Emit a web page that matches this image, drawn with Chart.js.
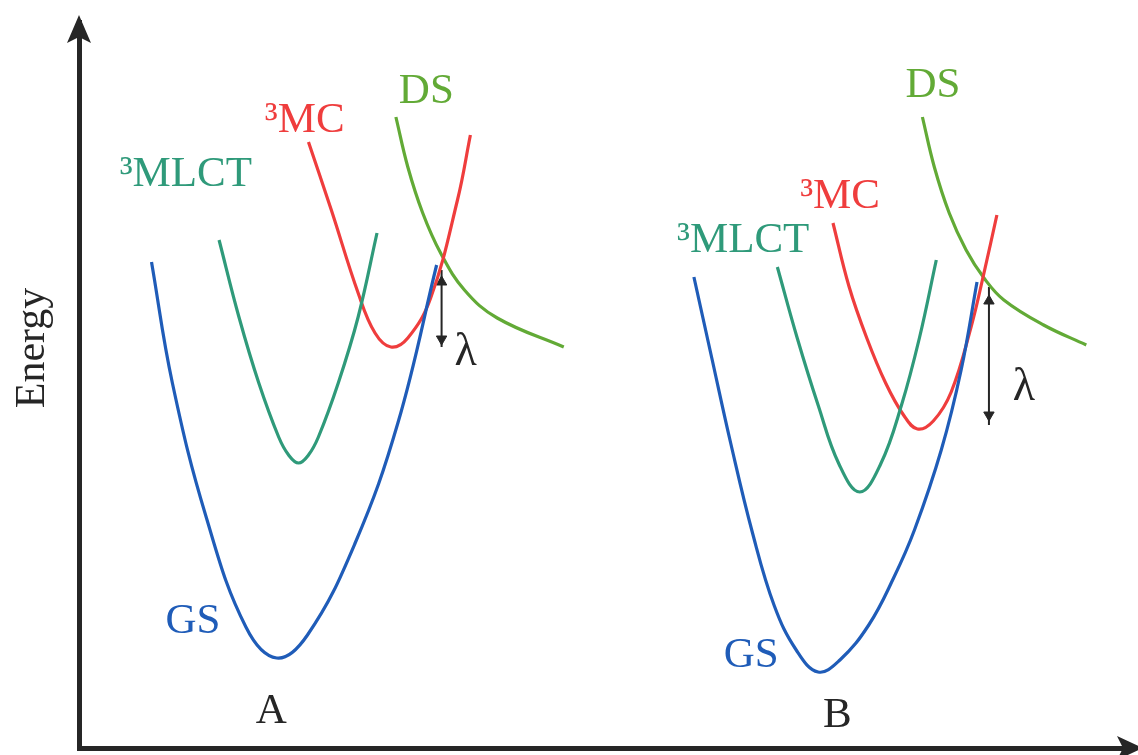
<!DOCTYPE html>
<html>
<head>
<meta charset="utf-8">
<script src="https://cdn.jsdelivr.net/npm/chart.js@4.4.0/dist/chart.umd.min.js"></script>
<style>
  html, body { margin: 0; padding: 0; background: #fff; }
  #wrap { width: 1138px; height: 755px; }
</style>
</head>
<body>
<div id="wrap"><canvas id="pesChart"></canvas></div>
<script>
// reaction coordinate (x) and energy (y)
// panel A
const gsA_x = [73, 94, 128, 168, 199, 230, 278, 321, 360];
const gsA_y = [486, 365, 231, 121, 90, 113, 205, 325, 483];
const mlctA_x = [141, 161, 181, 201, 211, 221, 231, 241, 261, 281, 300];
const mlctA_y = [508, 431, 365, 311, 293, 285, 293, 311, 365, 431, 515];
const mcA_x = [231, 254, 281, 298, 314, 331, 354, 381, 394];
const mcA_y = [606, 538, 455, 415, 401, 410, 450, 548, 613];
const dsA_x = [319, 331, 346, 364, 388, 421, 488];
const dsA_y = [631, 581, 535, 495, 458, 430, 401];
const lambdaA = { x: 365, top: 478, bottom: 401, headTop: 466, headBottom: 409 };

// panel B
const gsB_x = [619, 637, 656, 678, 700, 722, 744, 766, 795, 820, 841, 868, 888, 904];
const gsB_y = [471, 390, 305, 215, 142, 98, 76, 88, 123, 170, 218, 298, 378, 466];
const mlctB_x = [703, 723, 744, 765, 786, 807, 828, 846, 863];
const mlctB_y = [481, 410, 343, 284, 256, 284, 343, 410, 488];
const mcB_x = [759, 775, 793, 812, 830, 844, 860, 878, 898, 911, 924];
const mcB_y = [525, 462, 410, 365, 333, 319, 327, 356, 421, 475, 533];
const dsB_x = [849, 861, 876, 893, 911, 931, 971, 1014];
const dsB_y = [631, 581, 535, 498, 470, 448, 423, 403];
const lambdaB = { x: 916, top: 461, bottom: 323, headTop: 447, headBottom: 333 };

const labelText = ['\u00B3MLCT', '\u00B3MC', 'DS', 'GS', 'A', '\u03BB', '\u00B3MLCT', '\u00B3MC', 'DS', 'GS', 'B', '\u03BB'];
const labelX = [41, 187, 322, 87, 178, 378, 602, 726, 832, 649, 749, 940];
const labelY = [562, 616, 645, 115, 25, 383, 496, 540, 651, 81, 21, 348];

const BLUE = '#1f5cb8';
const TEAL = '#2f9a7a';
const RED = '#ef3d3d';
const GREEN = '#62aa36';
const INK = '#262626';
const labelColor = [TEAL, RED, GREEN, BLUE, INK, INK, TEAL, RED, GREEN, BLUE, INK, INK];

const pts = (xs, ys) => xs.map((x, i) => ({ x: x, y: ys[i] }));

function curve(xs, ys, color) {
  return {
    data: pts(xs, ys),
    showLine: true,
    borderColor: color,
    borderWidth: 3.2,
    pointRadius: 0,
    tension: 0.4
  };
}

function arrowLine(a) {
  return {
    data: [{ x: a.x, y: a.top }, { x: a.x, y: a.bottom }],
    showLine: true,
    borderColor: INK,
    borderWidth: 2,
    pointRadius: 0
  };
}

function arrowHeads(a) {
  return {
    data: [{ x: a.x, y: a.headTop }, { x: a.x, y: a.headBottom }],
    showLine: false,
    pointStyle: 'triangle',
    pointRotation: [0, 180],
    pointRadius: 6,
    pointBackgroundColor: INK,
    pointBorderColor: INK,
    pointBorderWidth: 1
  };
}

const decor = {
  id: 'decor',
  afterDraw(chart) {
    const { ctx, chartArea, scales } = chart;
    ctx.save();
    // axis arrowheads
    ctx.fillStyle = INK;
    const ax = chartArea.left;
    ctx.beginPath();
    ctx.moveTo(ax, chartArea.top - 7);
    ctx.lineTo(ax + 12, chartArea.top + 21);
    ctx.lineTo(ax, chartArea.top + 15);
    ctx.lineTo(ax - 12, chartArea.top + 21);
    ctx.closePath();
    ctx.fill();
    const ay = chartArea.bottom;
    ctx.beginPath();
    ctx.moveTo(chartArea.right + 12, ay);
    ctx.lineTo(chartArea.right - 14, ay - 12);
    ctx.lineTo(chartArea.right - 8, ay);
    ctx.lineTo(chartArea.right - 14, ay + 12);
    ctx.closePath();
    ctx.fill();

    // curve labels
    ctx.textAlign = 'left';
    ctx.textBaseline = 'alphabetic';
    labelText.forEach((t, i) => {
      ctx.font = (t === '\u03BB' ? '46px' : '43px') + ' "Liberation Serif", "Times New Roman", serif';
      ctx.fillStyle = labelColor[i];
      ctx.fillText(t, scales.x.getPixelForValue(labelX[i]), scales.y.getPixelForValue(labelY[i]));
    });

    // y axis name
    ctx.fillStyle = INK;
    ctx.font = '42px "Liberation Serif", "Times New Roman", serif';
    ctx.translate(44, 348);
    ctx.rotate(-Math.PI / 2);
    ctx.textAlign = 'center';
    ctx.fillText('Energy', 0, 0);
    ctx.restore();
  }
};

new Chart(document.getElementById('pesChart'), {
  type: 'scatter',
  data: {
    datasets: [
      curve(gsA_x, gsA_y, BLUE),
      curve(mlctA_x, mlctA_y, TEAL),
      curve(mcA_x, mcA_y, RED),
      curve(dsA_x, dsA_y, GREEN),
      curve(gsB_x, gsB_y, BLUE),
      curve(mlctB_x, mlctB_y, TEAL),
      curve(mcB_x, mcB_y, RED),
      curve(dsB_x, dsB_y, GREEN),
      arrowLine(lambdaA),
      arrowHeads(lambdaA),
      arrowLine(lambdaB),
      arrowHeads(lambdaB)
    ]
  },
  options: {
    responsive: true,
    maintainAspectRatio: false,
    animation: false,
    layout: { padding: { left: 79, top: 22, right: 0, bottom: 7 } },
    plugins: { legend: { display: false }, tooltip: { enabled: false } },
    scales: {
      x: {
        type: 'linear', min: 0, max: 1059,
        ticks: { display: false },
        grid: { display: false, drawTicks: false },
        border: { display: true, width: 5, color: INK }
      },
      y: {
        type: 'linear', min: 0, max: 726,
        ticks: { display: false },
        grid: { display: false, drawTicks: false },
        border: { display: true, width: 5, color: INK }
      }
    }
  },
  plugins: [decor]
});
</script>
</body>
</html>
